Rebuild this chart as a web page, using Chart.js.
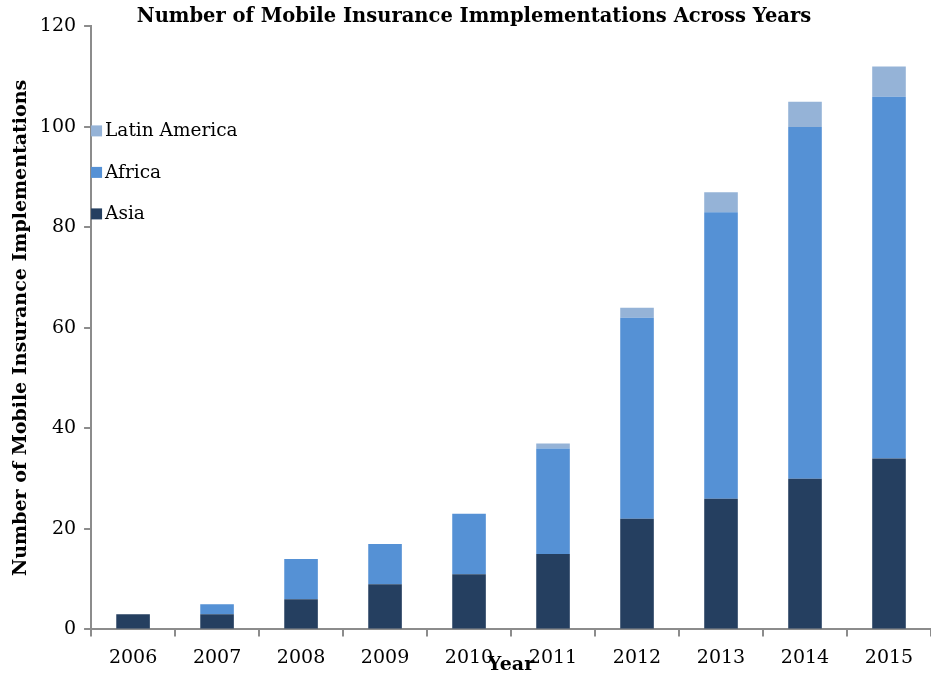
<!DOCTYPE html>
<html>
<head>
<meta charset="utf-8">
<script src="https://cdn.jsdelivr.net/npm/chart.js@4.4.0/dist/chart.umd.min.js"></script>
<style>
    html, body { margin: 0; padding: 0; background: #fff; }
    #wrap { width: 931px; height: 674px; }
</style>
</head>
<body>
<div id="wrap"><canvas id="insuranceChart" width="931" height="674"></canvas></div>
<script>
var years = ['2006', '2007', '2008', '2009', '2010', '2011', '2012', '2013', '2014', '2015'];
var asia = [3, 3, 6, 9, 11, 15, 22, 26, 30, 34];
var africa = [0, 2, 8, 8, 12, 21, 40, 57, 70, 72];
var latinAmerica = [0, 0, 0, 0, 0, 1, 2, 4, 5, 6];
var yTicks = [0, 20, 40, 60, 80, 100, 120];

var serif = "'DejaVu Serif', 'Liberation Serif', serif";

// legend drawn inside the plot, top-left, reversed order
var insideLegend = {
    id: 'insideLegend',
    afterDraw: function (chart) {
        var ctx = chart.ctx;
        var area = chart.chartArea;
        var sets = chart.data.datasets.slice().reverse();
        ctx.save();
        ctx.font = "18.5px " + serif;
        ctx.textBaseline = 'middle';
        sets.forEach(function (ds, i) {
            var y = area.top + 105 + i * 41.5;
            ctx.fillStyle = ds.backgroundColor;
            ctx.fillRect(area.left, y - 6, 11, 11);
            ctx.fillStyle = '#000';
            ctx.fillText(ds.label, area.left + 14, y);
        });
        ctx.restore();
    }
};

var ctx = document.getElementById('insuranceChart').getContext('2d');
var chart = new Chart(ctx, {
    type: 'bar',
    data: {
        labels: years,
        datasets: [
            { label: 'Asia', data: asia, backgroundColor: '#253f60' },
            { label: 'Africa', data: africa, backgroundColor: '#5591d5' },
            { label: 'Latin America', data: latinAmerica, backgroundColor: '#95b3d7' }
        ]
    },
    options: {
        responsive: false,
        animation: false,
        layout: { padding: { left: 10, right: -7, top: 0, bottom: 0 } },
        datasets: { bar: { barPercentage: 0.4, categoryPercentage: 1.0 } },
        plugins: {
            legend: { display: false },
            tooltip: { enabled: false },
            title: {
                display: true,
                text: 'Number of Mobile Insurance Immplementations Across Years',
                color: '#000',
                font: { family: serif, size: 19.5, weight: 'bold' },
                padding: { top: 5, bottom: -2 }
            }
        },
        scales: {
            x: {
                stacked: true,
                border: { color: '#8c8c8c', width: 2 },
                grid: { display: true, drawOnChartArea: false, drawTicks: true, tickLength: 7, color: '#8c8c8c', lineWidth: 2, offset: true },
                ticks: { color: '#000', padding: 10, font: { family: serif, size: 19 }, maxRotation: 0 },
                title: {
                    display: true,
                    text: 'Year',
                    color: '#000',
                    font: { family: serif, size: 19, weight: 'bold' },
                    padding: { top: -26, bottom: -2 }
                }
            },
            y: {
                stacked: true,
                min: 0,
                max: 120,
                afterBuildTicks: function (scale) {
                    scale.ticks = yTicks.map(function (v) { return { value: v }; });
                },
                border: { color: '#8c8c8c', width: 2 },
                grid: { display: true, drawOnChartArea: false, drawTicks: true, tickLength: 7, color: '#8c8c8c', lineWidth: 2 },
                ticks: { color: '#000', padding: 8, font: { family: serif, size: 19 } },
                title: {
                    display: true,
                    text: 'Number of Mobile Insurance Implementations',
                    color: '#000',
                    font: { family: serif, size: 19, weight: 'bold' },
                    padding: { top: 0, bottom: -1 }
                }
            }
        }
    },
    plugins: [insideLegend]
});
</script>
</body>
</html>
